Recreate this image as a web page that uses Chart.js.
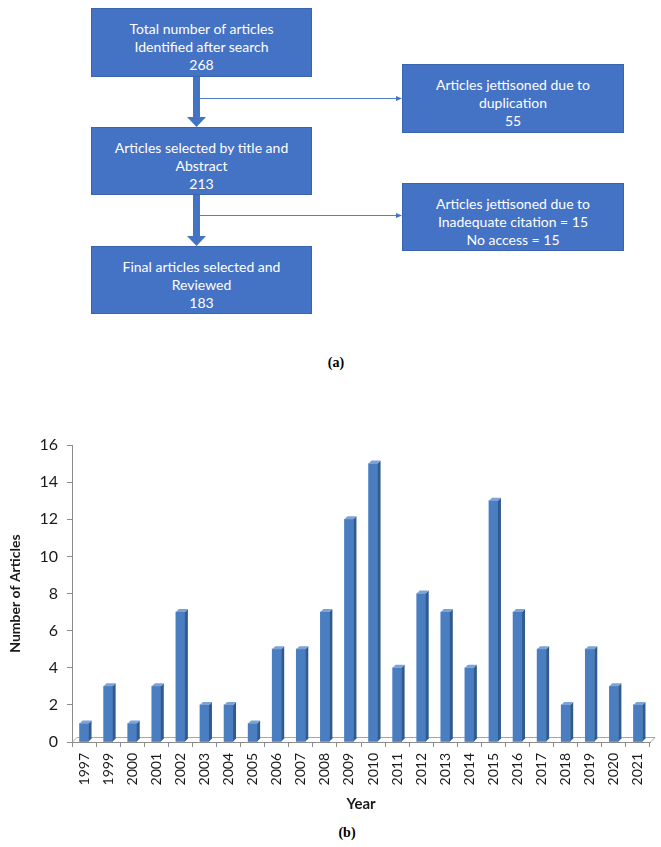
<!DOCTYPE html>
<html lang="en">
<head>
    <meta charset="UTF-8">
    <title>Articles by Year</title>
    <script src="https://cdn.jsdelivr.net/npm/chart.js"></script>
    <style>
        body {
            margin: 0;
            width: 661px;
            height: 847px;
            position: relative;
            background: #fff;
            font-family: Lato, "Open Sans", sans-serif;
        }
        .box {
            position: absolute;
            background: #4472C4;
            border: 1px solid #3a64ad;
            box-sizing: border-box;
            color: #fff;
            font-size: 14px;
            line-height: 18px;
            text-align: center;
            padding-top: 11px;
        }
        .panel-label {
            position: absolute;
            font-family: "Liberation Serif", "Times New Roman", serif;
            font-weight: bold;
            font-size: 14px;
            transform: translate(-50%, -50%);
        }
        #flow {
            position: absolute;
            left: 0;
            top: 0;
        }
        .chart-wrapper {
            position: absolute;
            left: 0;
            top: 425px;
            width: 661px;
            height: 395px;
        }
    </style>
</head>
<body>
    <svg id="flow" width="661" height="330">
        <!-- thick arrows down the main column -->
        <rect x="193" y="76" width="7" height="42" fill="#4472C4"/>
        <polygon points="187,117 206,117 196.5,127" fill="#4472C4"/>
        <rect x="193" y="194" width="7" height="43" fill="#4472C4"/>
        <polygon points="187,236 206,236 196.5,246" fill="#4472C4"/>
        <!-- thin side arrows -->
        <line x1="200" y1="98.5" x2="397" y2="98.5" stroke="#4f80cc" stroke-width="1"/>
        <polygon points="396,96 402,98.5 396,101" fill="#4472C4"/>
        <line x1="200" y1="215.5" x2="397" y2="215.5" stroke="#4f80cc" stroke-width="1"/>
        <polygon points="396,213 402,215.5 396,218" fill="#4472C4"/>
    </svg>

    <div class="box" style="left:91px; top:8px; width:221px; height:69px;">
        Total number of articles<br>Identified after search<br>268
    </div>
    <div class="box" style="left:91px; top:127px; width:221px; height:68px;">
        Articles selected by title and<br>Abstract<br>213
    </div>
    <div class="box" style="left:91px; top:246px; width:221px; height:68px;">
        Final articles selected and<br>Reviewed<br>183
    </div>
    <div class="box" style="left:402px; top:64px; width:222px; height:69px;">
        Articles jettisoned due to<br>duplication<br>55
    </div>
    <div class="box" style="left:402px; top:183px; width:222px; height:68px;">
        Articles jettisoned due to<br>Inadequate citation = 15<br>No access = 15
    </div>

    <div class="panel-label" style="left:336px; top:363px;">(a)</div>

    <div class="chart-wrapper">
        <canvas id="yearChart" width="661" height="395"></canvas>
    </div>

    <div class="panel-label" style="left:347px; top:833px;">(b)</div>

    <script>
        const years = ['1997', '1999', '2000', '2001', '2002', '2003', '2004', '2005',
            '2006', '2007', '2008', '2009', '2010', '2011', '2012', '2013',
            '2014', '2015', '2016', '2017', '2018', '2019', '2020', '2021'];
        const articleCounts = [1, 3, 1, 3, 7, 2, 2, 1, 5, 5, 7, 12, 15, 4, 8, 7, 4, 13, 7, 5, 2, 5, 3, 2];
        const yMax = 16;
        const yStep = 2;

        const axisGray = '#8c8c8c';

        // fake the excel 3d look: floor, side and top faces of each bar
        const bar3d = {
            id: 'bar3d',
            beforeDatasetsDraw(chart) {
                const { ctx, chartArea } = chart;
                const b = chartArea.bottom;
                ctx.save();
                ctx.strokeStyle = '#a6a6a6';
                ctx.lineWidth = 1;
                ctx.beginPath();
                ctx.moveTo(chartArea.left, b + 0.5);
                ctx.lineTo(chartArea.left + 5, b - 4.5);
                ctx.lineTo(chartArea.right + 5, b - 4.5);
                ctx.lineTo(chartArea.right, b + 0.5);
                ctx.stroke();
                ctx.restore();
            },
            afterDatasetsDraw(chart) {
                const { ctx } = chart;
                const d = 3;
                chart.getDatasetMeta(0).data.forEach(bar => {
                    const w = bar.width;
                    const l = bar.x - w / 2;
                    const r = bar.x + w / 2;
                    const top = bar.y;
                    const base = bar.base;
                    ctx.save();
                    ctx.fillStyle = '#2f5b8f';
                    ctx.beginPath();
                    ctx.moveTo(r, top);
                    ctx.lineTo(r + d, top - d);
                    ctx.lineTo(r + d, base - d);
                    ctx.lineTo(r, base);
                    ctx.closePath();
                    ctx.fill();
                    ctx.fillStyle = '#7ba3d8';
                    ctx.beginPath();
                    ctx.moveTo(l, top);
                    ctx.lineTo(l + d, top - d);
                    ctx.lineTo(r + d, top - d);
                    ctx.lineTo(r, top);
                    ctx.closePath();
                    ctx.fill();
                    ctx.restore();
                });
            }
        };

        new Chart(document.getElementById('yearChart'), {
            type: 'bar',
            data: {
                labels: years,
                datasets: [{
                    label: 'Number of Articles',
                    data: articleCounts,
                    backgroundColor: '#4a7ec0',
                    borderWidth: 0,
                    barThickness: 9
                }]
            },
            options: {
                responsive: false,
                animation: false,
                layout: {
                    padding: { top: 20, right: 11, bottom: 5, left: 0 }
                },
                plugins: {
                    legend: { display: false },
                    tooltip: { enabled: false }
                },
                scales: {
                    x: {
                        afterFit(scale) { scale.height = 73; },
                        grid: {
                            offset: true,
                            drawOnChartArea: false,
                            tickLength: 5,
                            color: axisGray
                        },
                        border: { color: axisGray },
                        ticks: {
                            minRotation: 90,
                            maxRotation: 90,
                            padding: 6,
                            color: '#1a1a1a',
                            font: { family: 'Lato', size: 14 }
                        },
                        title: {
                            display: true,
                            text: 'Year',
                            color: '#1a1a1a',
                            font: { family: 'Lato', size: 15, weight: 'bold' },
                            padding: { top: 2, bottom: 2 }
                        }
                    },
                    y: {
                        min: 0,
                        max: yMax,
                        afterFit(scale) { scale.width = 72; },
                        grid: {
                            drawOnChartArea: false,
                            tickLength: 5,
                            color: axisGray
                        },
                        border: { color: axisGray },
                        ticks: {
                            stepSize: yStep,
                            padding: 9,
                            color: '#1a1a1a',
                            font: { family: 'Lato', size: 16 }
                        },
                        title: {
                            display: true,
                            text: 'Number of Articles',
                            color: '#1a1a1a',
                            font: { family: 'Lato', size: 14, weight: 'bold' },
                            padding: { top: 7, bottom: 0 }
                        }
                    }
                }
            },
            plugins: [bar3d]
        });
    </script>
</body>
</html>
